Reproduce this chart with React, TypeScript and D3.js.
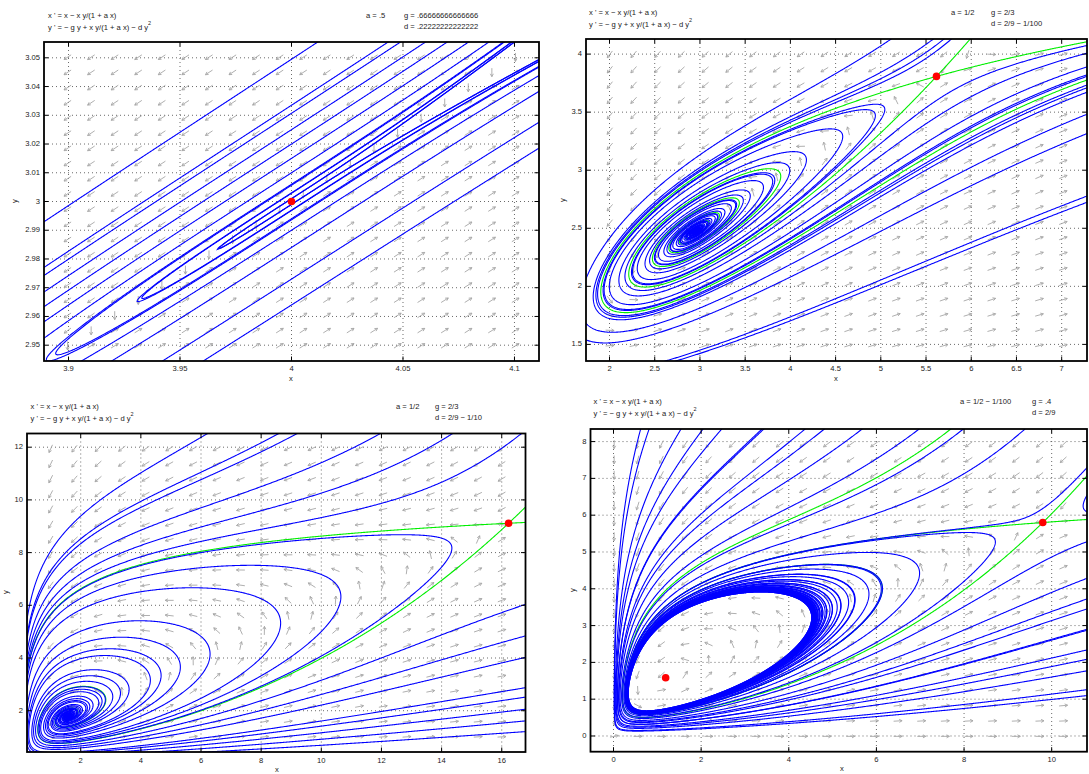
import React, { useMemo } from 'react';
import * as d3 from 'd3';

const W = 1089;
const H = 774;

// parameters a, g, d for each panel
const P1_AGD = [0.5, 2 / 3, 2 / 9];
const P2_AGD = [1 / 2, 2 / 3, 2 / 9 - 1 / 100];
const P3_AGD = [1 / 2, 2 / 3, 2 / 9 - 1 / 10];
const P4_AGD = [1 / 2 - 1 / 100, 0.4, 2 / 9];

// axis ranges
const P1_X = [3.889, 4.111];
const P1_Y = [2.9445, 3.0555];
const P2_X = [1.74, 7.28];
const P2_Y = [1.357, 4.13];
const P3_X = [0.214, 16.79];
const P3_Y = [0.433, 12.52];
const P4_X = [-0.525, 10.806];
const P4_Y = [-0.427, 8.342];

// tick values
const P1_XT = [3.9, 3.95, 4, 4.05, 4.1];
const P1_YT = [2.95, 2.96, 2.97, 2.98, 2.99, 3, 3.01, 3.02, 3.03, 3.04, 3.05];
const P2_XT = [2, 2.5, 3, 3.5, 4, 4.5, 5, 5.5, 6, 6.5, 7];
const P2_YT = [1.5, 2, 2.5, 3, 3.5, 4];
const P3_XT = [2, 4, 6, 8, 10, 12, 14, 16];
const P3_YT = [2, 4, 6, 8, 10, 12];
const P4_XT = [0, 2, 4, 6, 8, 10];
const P4_YT = [0, 1, 2, 3, 4, 5, 6, 7, 8];

// equilibria (approximate, marked with red dots); saddle first, then focus
const P1_EQ = [[4, 3]];
const P2_EQ = [[5.62, 3.81], [2.95, 2.475]];
const P3_EQ = [[16.3, 9.15], [1.59, 1.795]];
const P4_EQ = [[9.8, 5.8], [1.2, 1.59]];
// saddles whose separatrices are drawn in green
const P2_SADDLE = [5.62, 3.81];
const P3_SADDLE = [16.3, 9.15];
const P4_SADDLE = [9.8, 5.8];

// initial points of the blue solution curves
const P1_SEEDS = [
  [4, 3.0495], [4, 3.0335], [4, 3.0307], [4, 3.025], [4, 3.02], [4, 3.015], [4, 3.01],
  [4, 3.006], [4, 3.003], [4, 3.001], [4, 2.999], [4, 2.997], [4, 2.994], [4, 2.99],
  [4, 2.984], [4, 2.973], [4, 2.964], [4, 2.9415], [4, 2.9145],
];
const P2_SEEDS = [
  [2.45, 2.795], [4.66, 3.708], [5.04, 3.5], [5.99, 3.63],
  [7.2, 4.06], [7.2, 3.87], [7.2, 3.8], [7.2, 3.71], [7.2, 3.29], [7.2, 2.7],
  [5.2, 2.12], [1.85, 1.94],
];
const P3_SEEDS = [
  [3.3, 2.5], [4.3, 3.0], [5.3, 3.5], [6.3, 4.2], [8.6, 5.0], [10.6, 6.0], [13.8, 7.2],
  [0.3, 6], [0.45, 6], [0.7, 6], [1.1, 6],
  [9.0, 12.4], [14.2, 12.4],
  [16.7, 6.0], [16.7, 4.0], [16.7, 2.5], [16.7, 1.2],
];
const P4_SEEDS = [
  [0.61, 8.3], [1.52, 8.3], [2.44, 8.3], [3.35, 8.3], [4.33, 8.3], [5.63, 8.3], [6.93, 8.3],
  [7.94, 8.3], [9.35, 8.3],
  [10.75, 7.22], [10.75, 6.41],
  [10.75, 3.7], [10.75, 2.88], [10.75, 2.07], [10.75, 1.25],
];

const PANELS = [
  {
    agd: P1_AGD, xd: P1_X, yd: P1_Y, xt: P1_XT, yt: P1_YT, eq: P1_EQ, saddle: null, seeds: P1_SEEDS,
    box: [44, 42, 539, 361], dtMax: 200, tMax: 1e7, greenT: 0, maxSteps: 40000, dotR: [3.8],
    title: [48, 16], par: [366, 404], aText: '.5', gText: '.66666666666666', dText: '.22222222222222',
    xlab: [291, 379], ylab: [15, 201], tickY: 369,
  },
  {
    agd: P2_AGD, xd: P2_X, yd: P2_Y, xt: P2_XT, yt: P2_YT, eq: P2_EQ, saddle: P2_SADDLE, seeds: P2_SEEDS,
    box: [586, 39, 1087, 361], dtMax: 0.05, tMax: 400, greenT: 400, maxSteps: 40000, dotR: [3.8, 1.4],
    title: [589, 13], par: [951, 991], aText: '1/2', gText: '2/3', dText: '2/9 \u2212 1/100',
    xlab: [836, 379], ylab: [563, 200], tickY: 369,
  },
  {
    agd: P3_AGD, xd: P3_X, yd: P3_Y, xt: P3_XT, yt: P3_YT, eq: P3_EQ, saddle: P3_SADDLE, seeds: P3_SEEDS,
    box: [27, 433.5, 525.5, 752], dtMax: 0.05, tMax: 50, greenT: 60, maxSteps: 40000, dotR: [3.8, 1.4],
    title: [30.5, 406.5], par: [396, 435], aText: '1/2', gText: '2/3', dText: '2/9 \u2212 1/10',
    xlab: [277, 770], ylab: [6, 592], tickY: 761,
  },
  {
    agd: P4_AGD, xd: P4_X, yd: P4_Y, xt: P4_XT, yt: P4_YT, eq: P4_EQ, saddle: P4_SADDLE, seeds: P4_SEEDS,
    box: [590.5, 429, 1087, 751.7], dtMax: 0.05, tMax: 400, greenT: 30, maxSteps: 40000, dotR: [3.8, 3.8],
    title: [593.5, 401.5], par: [960, 1032], aText: '1/2 \u2212 1/100', gText: '.4', dText: '2/9',
    xlab: [842, 769], ylab: [573, 590], tickY: 760,
  },
];

type V2 = [number, number];

function makeRhs(a: number, g: number, d: number) {
  return (x: number, y: number): V2 => {
    const q = (x * y) / (1 + a * x);
    return [x - q, -g * y + q - d * y * y];
  };
}

function jac(a: number, g: number, d: number, x: number, y: number) {
  const s = 1 + a * x;
  return [1 - y / (s * s), -x / s, y / (s * s), -g + x / s - 2 * d * y];
}

function refine(agd: number[], p: number[]): V2 {
  const [a, g, d] = agd;
  const rhs = makeRhs(a, g, d);
  let x = p[0];
  let y = p[1];
  for (let i = 0; i < 50; i++) {
    const [f1, f2] = rhs(x, y);
    const [j11, j12, j21, j22] = jac(a, g, d, x, y);
    const det = j11 * j22 - j12 * j21;
    if (Math.abs(det) < 1e-14) break;
    const dx = (j22 * f1 - j12 * f2) / det;
    const dy = (-j21 * f1 + j11 * f2) / det;
    x -= dx;
    y -= dy;
    if (Math.abs(dx) + Math.abs(dy) < 1e-13) break;
  }
  return [x, y];
}

function trace(rhs: (x: number, y: number) => V2, p0: number[], dir: number, pn: any, sx: any, sy: any, tMax: number) {
  const kx = Math.abs(sx(1) - sx(0));
  const ky = Math.abs(sy(1) - sy(0));
  const [x0, x1] = pn.xd;
  const [y0, y1] = pn.yd;
  const mx = (x1 - x0) * 0.02;
  const my = (y1 - y0) * 0.02;
  let x = p0[0];
  let y = p0[1];
  const pts: V2[] = [[x, y]];
  let lpx = x * kx;
  let lpy = y * ky;
  let t = 0;
  for (let i = 0; i < pn.maxSteps; i++) {
    const k1 = rhs(x, y);
    const sp = Math.hypot(k1[0] * kx, k1[1] * ky);
    if (sp < 1e-9) break;
    const h = dir * Math.min(pn.dtMax, 0.8 / sp);
    const k2 = rhs(x + 0.5 * h * k1[0], y + 0.5 * h * k1[1]);
    const k3 = rhs(x + 0.5 * h * k2[0], y + 0.5 * h * k2[1]);
    const k4 = rhs(x + h * k3[0], y + h * k3[1]);
    x += (h / 6) * (k1[0] + 2 * k2[0] + 2 * k3[0] + k4[0]);
    y += (h / 6) * (k1[1] + 2 * k2[1] + 2 * k3[1] + k4[1]);
    t += Math.abs(h);
    const out = x < x0 - mx || x > x1 + mx || y < y0 - my || y > y1 + my;
    if (out || Math.hypot(x * kx - lpx, y * ky - lpy) > 0.7) {
      pts.push([x, y]);
      lpx = x * kx;
      lpy = y * ky;
    }
    if (out || t > tMax || !isFinite(x) || !isFinite(y)) break;
  }
  return pts;
}

function fmt(v: number) {
  return String(+v.toFixed(4));
}

function Panel({ pn, idx }: { pn: any; idx: number }) {
  const [L, T, R, B] = pn.box;
  const sx = d3.scaleLinear().domain(pn.xd).range([L, R]);
  const sy = d3.scaleLinear().domain(pn.yd).range([B, T]);
  const [a, g, d] = pn.agd;
  const rhs = makeRhs(a, g, d);

  const { blue, green, dots } = useMemo(() => {
    const blue: V2[][] = [];
    for (const s of pn.seeds) {
      const f = trace(rhs, s, 1, pn, sx, sy, pn.tMax);
      const b = trace(rhs, s, -1, pn, sx, sy, pn.tMax);
      blue.push(b.reverse().concat(f));
    }
    const green: V2[][] = [];
    if (pn.saddle) {
      const [sx0, sy0] = refine(pn.agd, pn.saddle);
      const [j11, j12, j21, j22] = jac(a, g, d, sx0, sy0);
      const tr = j11 + j22;
      const det = j11 * j22 - j12 * j21;
      const disc = Math.sqrt(tr * tr / 4 - det);
      const lams = [tr / 2 + disc, tr / 2 - disc];
      const span = Math.min(pn.xd[1] - pn.xd[0], pn.yd[1] - pn.yd[0]) * 1e-4;
      lams.forEach((lam) => {
        let vx = j12;
        let vy = lam - j11;
        const n = Math.hypot(vx, vy);
        vx /= n;
        vy /= n;
        const dir = lam > 0 ? 1 : -1;
        for (const sgn of [1, -1]) {
          const p = [sx0 + sgn * span * vx, sy0 + sgn * span * vy];
          const tr0 = trace(rhs, p, dir, pn, sx, sy, pn.greenT);
          green.push([[sx0, sy0] as V2].concat(tr0));
        }
      });
    }
    const dots = pn.eq.map((p: number[]) => refine(pn.agd, p));
    return { blue, green, dots };
  }, [idx]);

  const line = d3
    .line<V2>()
    .x((p) => sx(p[0]))
    .y((p) => sy(p[1]));

  // direction field
  const N = 21;
  const arrows: string[] = [];
  for (let i = 1; i < N; i++) {
    for (let j = 1; j < N; j++) {
      const xv = pn.xd[0] + ((pn.xd[1] - pn.xd[0]) * i) / N;
      const yv = pn.yd[0] + ((pn.yd[1] - pn.yd[0]) * j) / N;
      const [u, v] = rhs(xv, yv);
      const px = sx(xv + u * 1e-6) - sx(xv);
      const py = sy(yv + v * 1e-6) - sy(yv);
      const n = Math.hypot(px, py);
      if (n === 0) continue;
      const ux = px / n;
      const uy = py / n;
      const cx = sx(xv);
      const cy = sy(yv);
      const len = 8.5;
      const tx = cx - (ux * len) / 2;
      const ty = cy - (uy * len) / 2;
      const hx = cx + (ux * len) / 2;
      const hy = cy + (uy * len) / 2;
      const hl = 3.2;
      const ang = 0.5;
      const c = Math.cos(ang);
      const s = Math.sin(ang);
      const l1x = hx - hl * (ux * c - uy * s);
      const l1y = hy - hl * (ux * s + uy * c);
      const l2x = hx - hl * (ux * c + uy * s);
      const l2y = hy - hl * (-ux * s + uy * c);
      arrows.push(
        `M${tx.toFixed(2)},${ty.toFixed(2)}L${hx.toFixed(2)},${hy.toFixed(2)}M${l1x.toFixed(2)},${l1y.toFixed(2)}L${hx.toFixed(2)},${hy.toFixed(2)}L${l2x.toFixed(2)},${l2y.toFixed(2)}`
      );
    }
  }

  const clipId = `clip${idx}`;
  const fs = 7.6;
  const dotEl = (p: V2, i: number) => (
    <circle key={'d' + i} cx={sx(p[0])} cy={sy(p[1])} r={pn.dotR[i]} fill="#ff0000" stroke="none" />
  );
  return (
    <g fontFamily="'Liberation Sans', Arial, sans-serif" fill="#222">
      <defs>
        <clipPath id={clipId}>
          <rect x={L} y={T} width={R - L} height={B - T} />
        </clipPath>
      </defs>
      {/* grid */}
      <g stroke="#444" strokeWidth={0.8} strokeDasharray="1 3">
        {pn.xt.map((v: number) => (
          <line key={'gx' + v} x1={sx(v)} x2={sx(v)} y1={T} y2={B} />
        ))}
        {pn.yt.map((v: number) => (
          <line key={'gy' + v} x1={L} x2={R} y1={sy(v)} y2={sy(v)} />
        ))}
      </g>
      <path d={arrows.join('')} stroke="#a6a6a6" strokeWidth={0.9} fill="none" />
      <g clipPath={`url(#${clipId})`} fill="none" strokeWidth={1.1}>
        {dots.map((p: V2, i: number) => (pn.dotR[i] < 2 ? dotEl(p, i) : null))}
        {green.map((pts, i) => (
          <path key={'g' + i} d={line(pts) || ''} stroke="#00ee00" />
        ))}
        {blue.map((pts, i) => (
          <path key={'b' + i} d={line(pts) || ''} stroke="#0000ff" />
        ))}
        {dots.map((p: V2, i: number) => (pn.dotR[i] >= 2 ? dotEl(p, i) : null))}
      </g>
      {/* ticks */}
      <g stroke="#000" strokeWidth={1}>
        {pn.xt.map((v: number) => (
          <g key={'tx' + v}>
            <line x1={sx(v)} x2={sx(v)} y1={B} y2={B - 4.5} />
            <line x1={sx(v)} x2={sx(v)} y1={T} y2={T + 4.5} />
          </g>
        ))}
        {pn.yt.map((v: number) => (
          <g key={'ty' + v}>
            <line x1={L} x2={L + 4.5} y1={sy(v)} y2={sy(v)} />
            <line x1={R} x2={R - 4.5} y1={sy(v)} y2={sy(v)} />
          </g>
        ))}
      </g>
      <rect x={L} y={T} width={R - L} height={B - T} fill="none" stroke="#000" strokeWidth={1.8} />
      {/* tick labels */}
      <g fontSize={fs}>
        {pn.xt.map((v: number) => (
          <text key={'lx' + v} x={sx(v)} y={pn.tickY} textAnchor="middle" dominantBaseline="middle">
            {fmt(v)}
          </text>
        ))}
        {pn.yt.map((v: number) => (
          <text key={'ly' + v} x={L - 4} y={sy(v)} textAnchor="end" dominantBaseline="middle">
            {fmt(v)}
          </text>
        ))}
        <text x={pn.xlab[0]} y={pn.xlab[1]} textAnchor="middle" dominantBaseline="middle">
          x
        </text>
        <text
          x={pn.ylab[0]}
          y={pn.ylab[1]}
          textAnchor="middle"
          dominantBaseline="middle"
          transform={`rotate(-90 ${pn.ylab[0]} ${pn.ylab[1]})`}
        >
          y
        </text>
      </g>
      {/* equations and parameters */}
      <g fontSize={fs}>
        <text x={pn.title[0]} y={pn.title[1]} dominantBaseline="middle">
          x ' = x {'\u2212'} x y/(1 + a x)
        </text>
        <text x={pn.title[0]} y={pn.title[1] + 12} dominantBaseline="middle">
          y ' = {'\u2212'} g y + x y/(1 + a x) {'\u2212'} d y
          <tspan dy={-4} fontSize={5.5}>
            2
          </tspan>
        </text>
        <text x={pn.par[0]} y={pn.title[1]} dominantBaseline="middle">
          a = {pn.aText}
        </text>
        <text x={pn.par[1]} y={pn.title[1]} dominantBaseline="middle">
          g = {pn.gText}
        </text>
        <text x={pn.par[1]} y={pn.title[1] + 11} dominantBaseline="middle">
          d = {pn.dText}
        </text>
      </g>
    </g>
  );
}

export default function App() {
  return (
    <svg width={W} height={H} style={{ display: 'block', position: 'absolute', left: 0, top: 0, background: '#fff' }}>
      <rect width={W} height={H} fill="#fff" />
      {PANELS.map((pn, i) => (
        <Panel key={i} pn={pn} idx={i} />
      ))}
    </svg>
  );
}
